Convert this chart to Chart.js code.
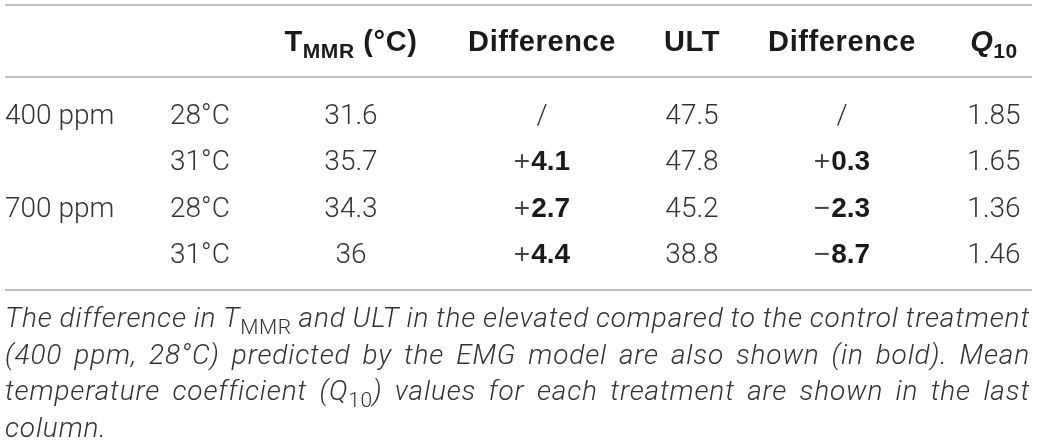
<!DOCTYPE html>
<html>
<head>
<meta charset="utf-8">
<script src="https://cdn.jsdelivr.net/npm/chart.js@4.4.1/dist/chart.umd.min.js"></script>
<style>
  html, body { margin: 0; padding: 0; background: #fff; }
  #wrap { width: 1039px; height: 446px; position: relative; }
</style>
</head>
<body>
<div id="wrap"><canvas id="tbl"></canvas></div>
<script>
// table data
const co2Levels = ['400 ppm', '', '700 ppm', ''];
const temps = ['28°C', '31°C', '28°C', '31°C'];
const tmmr = ['31.6', '35.7', '34.3', '36'];
const tmmrDiff = [null, 4.1, 2.7, 4.4];
const ult = ['47.5', '47.8', '45.2', '38.8'];
const ultDiff = [null, 0.3, -2.3, -8.7];
const q10 = ['1.85', '1.65', '1.36', '1.46'];

// header cells as text runs: [text, style]  (b = bold, bi = bold italic, bsub = bold subscript)
const headers = [
  [],
  [],
  [['T', 'b'], ['MMR', 'bsub'], [' (°C)', 'b']],
  [['Difference', 'b']],
  [['ULT', 'b']],
  [['Difference', 'b']],
  [['Q', 'bi'], ['10', 'bsub']]
];

const captionLines = [
  [['The difference in ', 'i'], ['T', 'i'], ['MMR', 'sub'], [' and ULT in the elevated compared to the control treatment', 'i']],
  [['(400 ppm, 28°C) predicted by the EMG model are also shown (in bold). Mean', 'i']],
  [['temperature coefficient (', 'i'], ['Q', 'i'], ['10', 'sub'], [') values for each treatment are shown in the last', 'i']],
  [['column.', 'i']]
];

// layout
const LIGHT = 'Roboto, "Liberation Sans", sans-serif';
const BOLD = '"Liberation Sans", Arial, sans-serif';
const SIZE = 28;
const HEAD = 29;
const colX = [5, 170, 351, 542, 692, 842, 994];
const colAlign = ['left', 'left', 'center', 'center', 'center', 'center', 'center'];
const tableLeft = 5, tableRight = 1032;

const rowKeys = temps.map((t, i) => (co2Levels[i - (i % 2)]) + ' ' + t);

function fmtDiff(v) {
  if (v === null) return [['/', 'n']];
  const sign = v >= 0 ? '+' : '\u2212';
  return [[sign, 'sign'], [Math.abs(v).toFixed(1), 'nb']];
}

const columns = [
  co2Levels.map(s => [[s, 'n']]),
  temps.map(s => [[s, 'n']]),
  tmmr.map(s => [[s, 'n']]),
  tmmrDiff.map(fmtDiff),
  ult.map(s => [[s, 'n']]),
  ultDiff.map(fmtDiff),
  q10.map(s => [[s, 'n']])
];

function fontFor(style) {
  switch (style) {
    case 'b': return '700 ' + HEAD + 'px ' + BOLD;
    case 'bi': return 'italic 700 ' + HEAD + 'px ' + BOLD;
    case 'bsub': return '700 ' + Math.round(HEAD * 0.74) + 'px ' + BOLD;
    case 'nb': return '700 ' + SIZE + 'px ' + BOLD;
    case 'sub': return '300 ' + Math.round(SIZE * 0.74) + 'px ' + LIGHT;
    case 'i': return 'italic 300 ' + SIZE + 'px ' + LIGHT;
    case 'sign': return '400 ' + SIZE + 'px "Liberation Sans", sans-serif';
    default: return '300 ' + SIZE + 'px ' + LIGHT;
  }
}
const isSub = s => s === 'sub' || s === 'bsub';
const isBold = s => s === 'b' || s === 'bi' || s === 'bsub' || s === 'nb';
function spacingFor(s) {
  if (s === 'b' || s === 'bi' || s === 'bsub') return '0.6px';
  if (s === 'i') return '0.85px';
  if (s === 'sub') return '0.6px';
  if (s === 'sign') return '1px';
  return '0px';
}

function setFont(ctx, s) {
  ctx.font = fontFor(s);
  ctx.letterSpacing = spacingFor(s);
}

function runsWidth(ctx, runs) {
  let w = 0;
  runs.forEach(([t, s]) => { setFont(ctx, s); w += ctx.measureText(t).width; });
  return w;
}

function drawRuns(ctx, runs, x, y, align, color) {
  const w = runsWidth(ctx, runs);
  let cx = align === 'center' ? x - w / 2 : align === 'right' ? x - w : x;
  ctx.textBaseline = 'alphabetic';
  ctx.textAlign = 'left';
  runs.forEach(([t, s]) => {
    setFont(ctx, s);
    ctx.fillStyle = isBold(s) ? '#1a1a1a' : (s === 'sign' ? '#444444' : color);
    ctx.fillText(t, cx, isSub(s) ? y + 7 : y);
    cx += ctx.measureText(t).width;
  });
}

// justified caption line
function drawJustified(ctx, runs, x0, x1, y, color, justify) {
  const tokens = [];
  runs.forEach(([t, s]) => {
    t.split(/( )/).forEach(p => { if (p !== '') tokens.push([p, s]); });
  });
  let natural = 0, spaces = 0;
  tokens.forEach(([t, s]) => {
    setFont(ctx, s);
    natural += ctx.measureText(t).width;
    if (t === ' ') spaces++;
  });
  const extra = justify && spaces ? (x1 - x0 - natural) / spaces : 0;
  let cx = x0;
  ctx.textAlign = 'left';
  ctx.textBaseline = 'alphabetic';
  tokens.forEach(([t, s]) => {
    setFont(ctx, s);
    const w = ctx.measureText(t).width;
    if (t !== ' ') {
      ctx.fillStyle = color;
      ctx.fillText(t, cx, isSub(s) ? y + 7 : y);
    }
    cx += w + (t === ' ' ? extra : 0);
  });
}

const tablePlugin = {
  id: 'tablePlugin',
  afterDatasetsDraw(chart) {
    const ctx = chart.ctx;
    const area = chart.chartArea;
    const ruleHead = area.top - 14;
    const ruleBottom = area.bottom + 14;
    const ruleTop = 5;

    ctx.save();
    ctx.strokeStyle = '#ababab';
    ctx.lineWidth = 1.6;
    [ruleTop, ruleHead, ruleBottom].forEach(y => {
      ctx.beginPath();
      ctx.moveTo(tableLeft, y);
      ctx.lineTo(tableRight, y);
      ctx.stroke();
    });

    // header row
    const headBase = (ruleTop + ruleHead) / 2 + 10;
    headers.forEach((runs, c) => {
      if (runs.length) drawRuns(ctx, runs, chart.scales.x.getPixelForValue(colX[c]), headBase, colAlign[c], '#1a1a1a');
    });

    // body cells, placed at each dataset point
    chart.data.datasets.forEach((ds, c) => {
      const meta = chart.getDatasetMeta(c);
      meta.data.forEach((pt, r) => {
        drawRuns(ctx, columns[c][r], pt.x, pt.y + 10, colAlign[c], '#333333');
      });
    });

    // caption
    const capTop = ruleBottom + 37;
    captionLines.forEach((runs, i) => {
      drawJustified(ctx, runs, tableLeft, 1030, capTop + i * 36.7, '#333333', i < captionLines.length - 1);
    });
    ctx.restore();
  }
};

const ctx = document.getElementById('tbl').getContext('2d');

const datasets = columns.map((col, c) => ({
  label: 'col' + c,
  data: rowKeys.map(k => ({ x: colX[c], y: k })),
  pointRadius: 0,
  showLine: false
}));

const chart = new Chart(ctx, {
  type: 'scatter',
  data: { datasets: datasets },
  options: {
    responsive: true,
    maintainAspectRatio: false,
    animation: false,
    layout: { padding: { top: 91, bottom: 170, left: 0, right: 0 } },
    plugins: { legend: { display: false }, tooltip: { enabled: false } },
    scales: {
      x: { type: 'linear', min: 0, max: 1039, display: false },
      y: { type: 'category', labels: rowKeys, offset: true, display: false }
    }
  },
  plugins: [tablePlugin]
});
</script>
</body>
</html>
